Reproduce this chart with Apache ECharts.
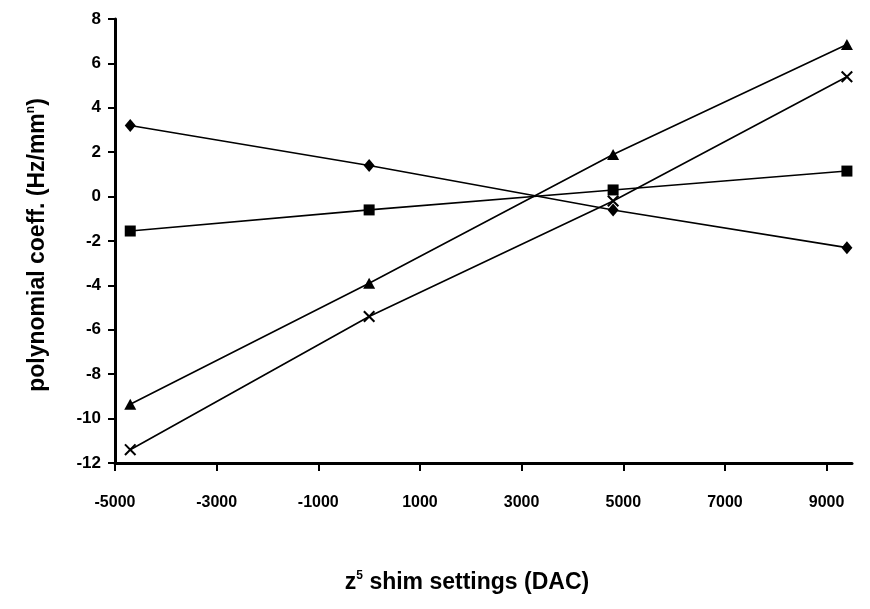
<!DOCTYPE html>
<html>
<head>
<meta charset="utf-8">
<script src="https://cdn.jsdelivr.net/npm/echarts@6/dist/echarts.min.js"></script>
<style>
  html, body { margin: 0; padding: 0; background: #fff; }
  #chart { width: 870px; height: 609px; }
</style>
</head>
<body>
<div id="chart"></div>
<script>
// shim settings (DAC)
var shimSettings = [-4700, 0, 4800, 9400];
// polynomial coefficients, one series per marker
var coefDiamond = [3.2, 1.4, -0.6, -2.3];
var coefSquare = [-1.55, -0.6, 0.3, 1.15];
var coefTriangle = [-9.35, -3.9, 1.9, 6.85];
var coefCross = [-11.4, -5.4, -0.2, 5.4];
// tick labels
var xTicks = [-5000, -3000, -1000, 1000, 3000, 5000, 7000, 9000];
var yTicks = [-12, -10, -8, -6, -4, -2, 0, 2, 4, 6, 8];

var xMin = -5000, xMax = 9500, yMin = -12, yMax = 8;
var font = '"Liberation Sans", Arial, sans-serif';
var crossPath = 'path://M0,1.2L1.2,0L10,8.8L8.8,10Z M8.8,0L10,1.2L1.2,10L0,8.8Z';

function pairs(ys) {
    var out = [];
    for (var i = 0; i < shimSettings.length; i++) {
        out.push([shimSettings[i], ys[i]]);
    }
    return out;
}

function makeSeries(name, ys, symbol, size) {
    return {
        name: name,
        type: 'line',
        xAxisIndex: 0,
        yAxisIndex: 0,
        data: pairs(ys),
        symbol: symbol,
        symbolSize: size,
        showSymbol: true,
        animation: false,
        lineStyle: { color: '#000', width: 1.6 },
        itemStyle: { color: '#000', borderWidth: 0 }
    };
}

var tickStyle = { color: '#000', width: 2 };

var option = {
    backgroundColor: '#fff',
    animation: false,
    grid: { left: 115, right: 18, top: 19, bottom: 146 },
    xAxis: [
        {
            type: 'value', min: xMin, max: xMax, position: 'bottom',
            splitLine: { show: false },
            axisLine: { show: true, onZero: false, lineStyle: { color: '#000', width: 3 } },
            axisTick: { show: true, inside: false, length: 8, customValues: xTicks, lineStyle: tickStyle },
            axisLabel: {
                show: true, customValues: xTicks, margin: 32,
                formatter: function (v) { return String(v); },
                color: '#000', fontFamily: font, fontWeight: 'bold', fontSize: 16
            }
        }
    ],
    yAxis: [
        {
            type: 'value', min: yMin, max: yMax, position: 'left',
            splitLine: { show: false },
            axisLine: { show: true, onZero: false, lineStyle: { color: '#000', width: 3 } },
            axisTick: { show: true, inside: false, length: 7, customValues: yTicks, lineStyle: tickStyle },
            axisLabel: {
                show: true, customValues: yTicks, margin: 14,
                formatter: function (v) { return String(v); },
                color: '#000', fontFamily: font, fontWeight: 'bold', fontSize: 17
            }
        }
    ],
    series: [
        makeSeries('diamond', coefDiamond, 'diamond', [11, 13]),
        makeSeries('square', coefSquare, 'rect', 11),
        makeSeries('triangle', coefTriangle, 'triangle', [12, 11]),
        makeSeries('cross', coefCross, crossPath, 12)
    ],
    graphic: [
        {
            type: 'text',
            x: 38,
            y: 245,
            rotation: Math.PI / 2,
            style: {
                text: '{a|polynomial coeff. (Hz/mm}{s|n}{a|)}',
                align: 'center',
                verticalAlign: 'middle',
                fill: '#000',
                rich: {
                    a: { fontFamily: font, fontWeight: 'bold', fontSize: 23, fill: '#000' },
                    s: { fontFamily: font, fontWeight: 'bold', fontSize: 12, fill: '#000', padding: [0, 0, 14, 0] }
                }
            }
        },
        {
            type: 'text',
            x: 467,
            y: 583,
            style: {
                text: '{a|z}{s|5}{a| shim settings (DAC)}',
                align: 'center',
                verticalAlign: 'middle',
                fill: '#000',
                rich: {
                    a: { fontFamily: font, fontWeight: 'bold', fontSize: 23, fill: '#000' },
                    s: { fontFamily: font, fontWeight: 'bold', fontSize: 12, fill: '#000', padding: [0, 0, 14, 0] }
                }
            }
        }
    ]
};

var myChart = echarts.init(document.getElementById('chart'));
myChart.setOption(option);
</script>
</body>
</html>
